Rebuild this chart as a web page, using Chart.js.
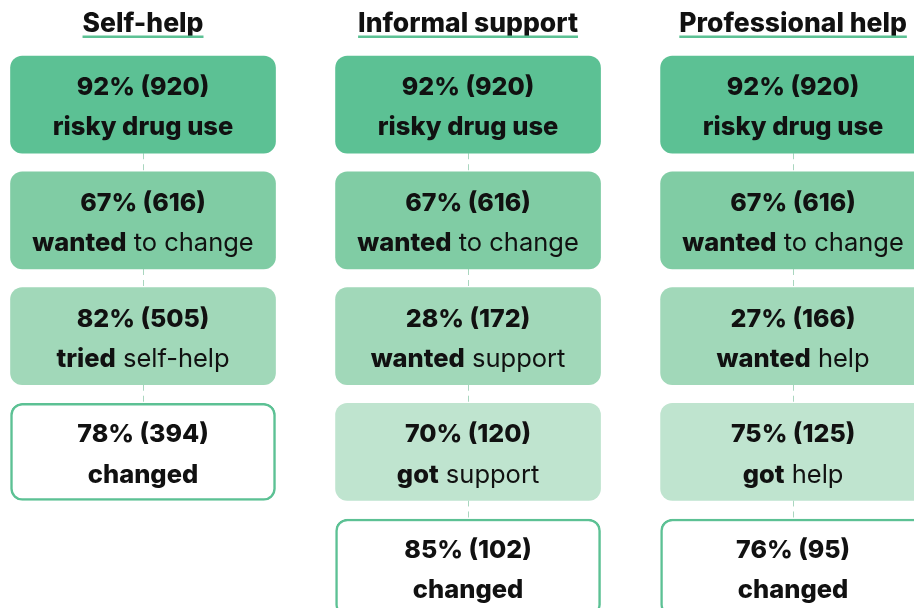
<!DOCTYPE html>
<html>
<head>
<meta charset="utf-8">
<script src="https://cdn.jsdelivr.net/npm/chart.js@4.4.0/dist/chart.umd.min.js"></script>
<style>
  body { margin: 0; background: #fff; }
</style>
</head>
<body>
<canvas id="myChart" width="914" height="608"></canvas>
<script>
// one column per route, one box per step
const columns = ['Self-help', 'Informal support', 'Professional help'];
const percents = [
  [92, 67, 82, 78],
  [92, 67, 28, 70, 85],
  [92, 67, 27, 75, 76]
];
const counts = [
  [920, 616, 505, 394],
  [920, 616, 172, 120, 102],
  [920, 616, 166, 125, 95]
];
const boldWords = [
  ['risky drug use', 'wanted', 'tried', 'changed'],
  ['risky drug use', 'wanted', 'wanted', 'got', 'changed'],
  ['risky drug use', 'wanted', 'wanted', 'got', 'changed']
];
const plainWords = [
  ['', ' to change', ' self-help', ''],
  ['', ' to change', ' support', ' support', ''],
  ['', ' to change', ' help', ' help', '']
];
const stepColors = ['#5cc194', '#80cca4', '#a1d8b9', '#bfe4cf'];
const green = '#5cc194';
const ink = '#111111';
const FONT = 'Inter, "Noto Sans", sans-serif';

const boxHeight = 0.84; // in step units
const maxSteps = Math.max(...percents.map(p => p.length));

function isLast(col, step) {
  return step === percents[col].length - 1;
}

let datasets = [];
for (let s = 0; s < maxSteps; s++) {
  let data = [];
  for (let c = 0; c < columns.length; c++) {
    if (percents[c].length > s) {
      data.push({ x: c, y: [s, s + boxHeight] });
    }
  }
  datasets.push({
    label: 'step ' + (s + 1),
    data: data,
    grouped: false,
    barThickness: 265,
    borderRadius: 12,
    borderSkipped: false,
    backgroundColor: ctx => (ctx.raw && isLast(ctx.raw.x, s)) ? '#ffffff' : stepColors[Math.min(s, stepColors.length - 1)],
    borderColor: green,
    borderWidth: ctx => (ctx.raw && isLast(ctx.raw.x, s)) ? 2.5 : 0
  });
}

function boxOf(chart, step, col) {
  let meta = chart.getDatasetMeta(step);
  let idx = chart.data.datasets[step].data.findIndex(d => d.x === col);
  if (idx < 0) return null;
  let bar = meta.data[idx];
  return { x: bar.x, top: Math.min(bar.y, bar.base), bottom: Math.max(bar.y, bar.base) };
}

const flowPlugin = {
  id: 'flow',
  beforeDatasetsDraw(chart) {
    let ctx = chart.ctx;
    ctx.save();
    ctx.strokeStyle = '#a9d6bf';
    ctx.lineWidth = 1;
    ctx.setLineDash([6, 5]);
    for (let c = 0; c < columns.length; c++) {
      for (let s = 0; s < percents[c].length - 1; s++) {
        let a = boxOf(chart, s, c);
        let b = boxOf(chart, s + 1, c);
        let x = Math.round(a.x) + 0.5;
        ctx.beginPath();
        ctx.moveTo(x, a.bottom);
        ctx.lineTo(x, b.top);
        ctx.stroke();
      }
    }
    ctx.restore();
  },
  afterDatasetsDraw(chart) {
    let ctx = chart.ctx;
    let xs = chart.scales.x;
    ctx.save();
    ctx.fillStyle = ink;
    ctx.textBaseline = 'middle';

    // column titles with green underline
    ctx.font = '800 26.5px ' + FONT;
    ctx.textAlign = 'center';
    columns.forEach((title, c) => {
      let cx = xs.getPixelForValue(c);
      ctx.fillStyle = ink;
      ctx.fillText(title, cx, 24);
      let w = ctx.measureText(title).width;
      ctx.fillStyle = green;
      ctx.fillRect(cx - w / 2, 35.5, w, 2.5);
    });

    // box texts
    for (let c = 0; c < columns.length; c++) {
      for (let s = 0; s < percents[c].length; s++) {
        let box = boxOf(chart, s, c);
        let cy = (box.top + box.bottom) / 2;
        ctx.fillStyle = ink;
        ctx.textAlign = 'center';
        ctx.font = '800 25px ' + FONT;
        ctx.fillText(percents[c][s] + '% (' + counts[c][s] + ')', box.x, cy - 17);

        let bold = boldWords[c][s];
        let plain = plainWords[c][s];
        ctx.font = '800 25.5px ' + FONT;
        let wb = ctx.measureText(bold).width;
        ctx.font = '25.5px ' + FONT;
        let wp = ctx.measureText(plain).width;
        let left = box.x - (wb + wp) / 2;
        ctx.textAlign = 'left';
        ctx.font = '800 25.5px ' + FONT;
        ctx.fillText(bold, left, cy + 23);
        ctx.font = '25.5px ' + FONT;
        ctx.fillText(plain, left + wb, cy + 23);
      }
    }
    ctx.restore();
  }
};

const chartCtx = document.getElementById('myChart');
let chart = new Chart(chartCtx, {
  type: 'bar',
  data: { datasets: datasets },
  options: {
    responsive: false,
    animation: false,
    layout: { padding: 0 },
    scales: {
      x: { type: 'linear', offset: false, min: -0.44, max: 2.372, display: false },
      y: { type: 'linear', reverse: true, min: -0.484, max: 4.769, display: false }
    },
    plugins: {
      legend: { display: false },
      tooltip: { enabled: false }
    }
  },
  plugins: [flowPlugin]
});
</script>
</body>
</html>
